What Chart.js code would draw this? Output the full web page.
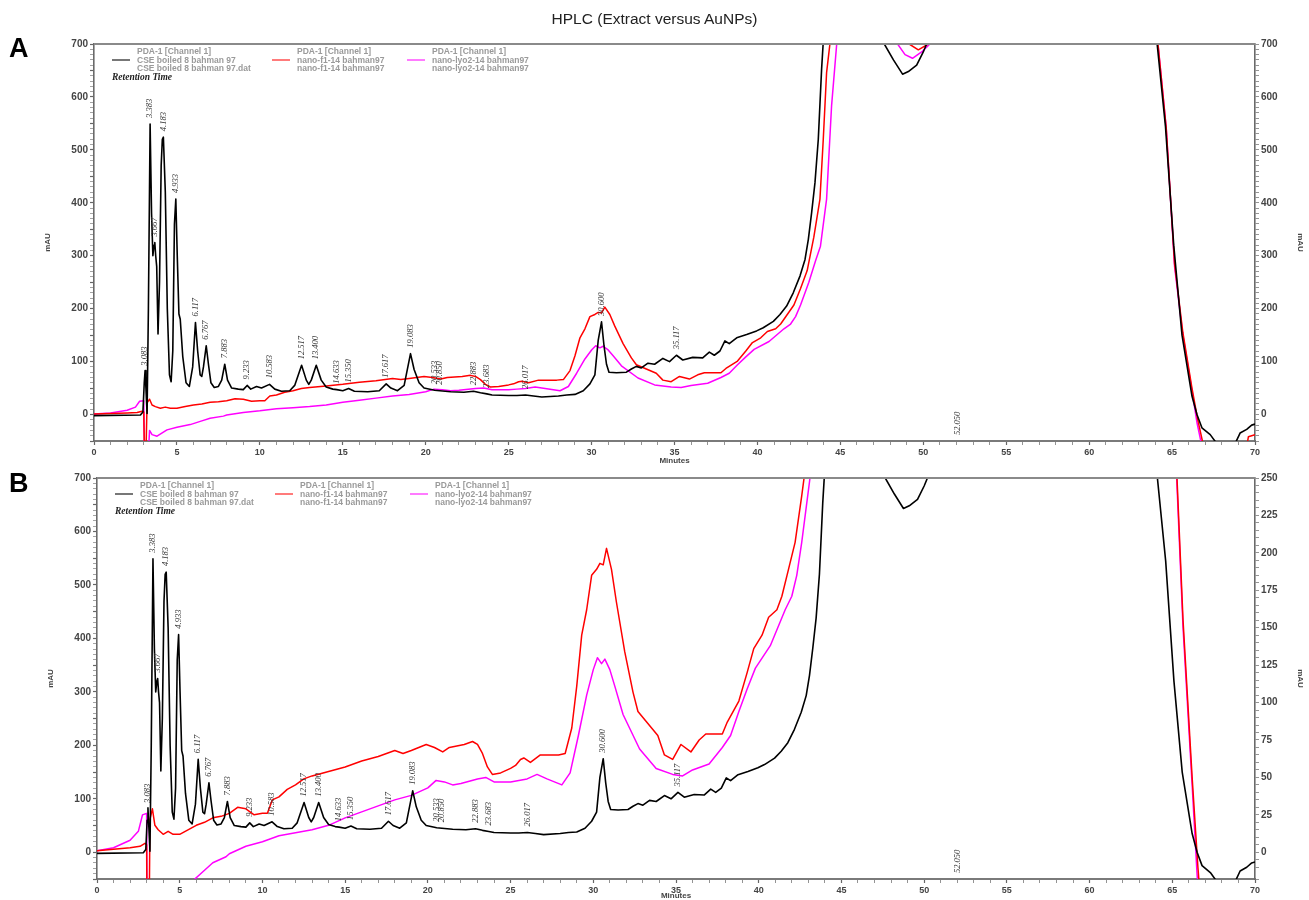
<!DOCTYPE html>
<html><head><meta charset="utf-8">
<script src="https://cdn.jsdelivr.net/npm/chart.js@4.4.0/dist/chart.umd.min.js"></script>
<style>
html,body{margin:0;padding:0;background:#fff;width:1309px;height:900px;overflow:hidden;font-family:"Liberation Sans",Arial,sans-serif;}
#title{position:absolute;left:0;top:10px;width:1309px;text-align:center;font-size:15.5px;color:#222;font-family:"Liberation Sans",Arial,sans-serif;}
.panel{position:absolute;left:9px;font-weight:bold;font-size:27px;color:#000;font-family:"Liberation Sans",Arial,sans-serif;line-height:30px;}
#wa{position:absolute;left:0;top:0;width:1309px;height:470px;}
#wb{position:absolute;left:0;top:470px;width:1309px;height:433px;}
</style></head><body>
<div id="wa"><canvas id="ca"></canvas></div>
<div id="wb"><canvas id="cb"></canvas></div>
<div id="title">HPLC (Extract versus AuNPs)</div>
<div class="panel" style="top:33px">A</div>
<div class="panel" style="top:468px">B</div>
<script>
// ---------------- DATA ----------------
const seriesNames = ["CSE boiled 8 bahman 97", "nano-f1-14 bahman97", "nano-lyo2-14 bahman97"];
const legendLines = [
  ["PDA-1 [Channel 1]", "CSE boiled 8 bahman 97", "CSE boiled 8 bahman 97.dat"],
  ["PDA-1 [Channel 1]", "nano-f1-14 bahman97", "nano-f1-14 bahman97"],
  ["PDA-1 [Channel 1]", "nano-lyo2-14 bahman97", "nano-lyo2-14 bahman97"]
];
// [minutes, mAU]
const blackTrace = [[0,-2],[2.8,-1],[2.95,5],[3.03,60],[3.08,83],[3.13,50],[3.2,2],[3.28,200],[3.383,549],[3.47,380],[3.55,300],[3.62,320],[3.667,325],[3.72,300],[3.78,280],[3.86,152],[3.95,250],[4.05,470],[4.12,520],[4.183,524],[4.3,420],[4.42,200],[4.55,75],[4.65,62],[4.75,120],[4.85,360],[4.933,407],[5.02,300],[5.12,190],[5.2,180],[5.35,110],[5.55,60],[5.75,53],[5.95,90],[6.117,174],[6.25,120],[6.4,75],[6.5,72],[6.6,90],[6.767,130],[6.9,95],[7.05,60],[7.25,51],[7.5,53],[7.7,65],[7.883,95],[8.05,65],[8.3,50],[8.7,48],[9.0,47],[9.233,55],[9.45,48],[9.8,53],[10.1,50],[10.583,57],[10.9,48],[11.3,44],[11.8,45],[12.1,55],[12.517,93],[12.8,65],[12.95,57],[13.1,65],[13.4,93],[13.7,65],[14.0,52],[14.4,48],[14.633,47],[15.0,45],[15.35,49],[15.7,44],[16.5,43],[17.2,45],[17.617,58],[17.9,50],[18.3,45],[18.7,55],[19.083,115],[19.3,85],[19.6,60],[19.9,50],[20.533,46],[20.85,45],[21.5,43],[22.3,42],[22.883,44],[23.3,41],[23.683,39],[24.0,37],[25.0,36],[25.5,36],[26.017,37],[26.5,35],[27.0,33],[28.0,35],[28.5,37],[29.0,38],[29.5,45],[29.9,58],[30.2,75],[30.4,140],[30.6,175],[30.75,130],[30.9,95],[31.05,80],[31.5,79],[32.1,80],[32.4,86],[32.7,91],[33.0,88],[33.4,97],[33.8,95],[34.3,106],[34.7,100],[35.117,112],[35.5,103],[36.1,108],[36.7,107],[37.1,118],[37.4,112],[37.74,120],[38.04,139],[38.3,134],[38.75,145],[39.35,151],[39.95,158],[40.35,164],[40.96,176],[41.36,189],[41.76,205],[42.16,230],[42.57,262],[42.87,293],[43.07,331],[43.27,382],[43.47,438],[43.67,520],[43.87,653],[44.0,720],[44.3,900],[47.4,900],[47.65,700],[48.2,670],[48.75,643],[49.1,648],[49.6,660],[50.0,685],[50.2,700],[50.4,900],[64.0,900],[64.1,700],[64.6,545],[65.1,320],[65.6,150],[66.2,35],[66.5,0],[66.8,-25],[67.3,-38],[67.7,-55],[68.8,-55],[69.1,-35],[69.5,-28],[69.8,-20],[70,-18]];
const redTrace = [[0,1],[1,2],[2,3],[2.6,4],[2.9,6],[3.0,5],[3.05,-90],[3.12,-90],[3.2,22],[3.35,29],[3.5,18],[3.7,15],[4.0,12],[4.3,14],[4.6,12],[5.0,12],[5.5,15],[6.0,18],[6.5,20],[7.0,23],[7.5,24],[8.0,26],[8.5,30],[9.0,29],[9.5,25],[10.0,26],[10.3,26],[10.6,35],[11.0,37],[11.5,42],[12.0,45],[12.5,49],[13.0,51],[14.0,54],[15.0,57],[16.0,61],[17.0,64],[18.0,68],[18.5,66],[19.0,68],[19.9,72],[20.4,70],[20.9,67],[21.3,70],[22.2,72],[22.7,74],[23.0,72],[23.3,66],[23.6,57],[23.9,52],[24.4,53],[25.0,56],[25.3,58],[25.6,62],[25.8,63],[26.2,60],[26.8,65],[27.9,65],[28.3,66],[28.7,83],[29.0,111],[29.3,145],[29.6,162],[29.9,185],[30.2,189],[30.4,193],[30.6,192],[30.8,203],[31.1,189],[31.4,167],[31.9,134],[32.4,107],[32.7,94],[33.3,86],[33.9,78],[34.3,65],[34.8,62],[35.3,72],[35.9,67],[36.4,75],[36.8,79],[37.8,79],[38.1,87],[38.8,101],[39.3,120],[39.7,136],[40.2,145],[40.6,157],[41.1,162],[41.4,171],[41.8,189],[42.2,207],[42.6,238],[43.0,272],[43.4,335],[43.77,407],[43.97,520],[44.17,646],[44.37,700],[44.6,900],[49.0,900],[49.15,700],[49.7,689],[50.3,700],[50.5,900],[64.0,900],[64.15,700],[64.65,540],[65.15,285],[65.65,155],[66.2,50],[66.55,-10],[66.9,-60],[67.2,-80],[69.4,-80],[69.6,-42],[70,-38]];
const magentaTrace = [[0,1],[1,3],[2,8],[2.5,14],[2.75,25],[3.0,26],[3.05,-90],[3.25,-90],[3.35,-30],[3.5,-38],[3.8,-41],[4.4,-29],[5.0,-24],[5.8,-19],[6.5,-12],[7.0,-7],[7.8,-3],[8.0,-1],[9.0,4],[10.0,7],[11.0,11],[12.0,13],[13.0,15],[14.0,18],[15.0,23],[16.0,27],[17.0,31],[18.0,35],[19.0,38],[20.0,43],[20.5,48],[21.0,47],[21.5,45],[22.0,46],[23.0,49],[23.5,50],[24.0,47],[25.0,47],[25.5,48],[26.0,49],[26.6,52],[27.2,49],[28.1,45],[28.6,53],[29.1,78],[29.6,105],[30.0,122],[30.25,130],[30.5,126],[30.7,129],[31.0,122],[31.3,111],[31.8,92],[32.8,69],[33.8,56],[34.8,52],[35.4,51],[36.0,55],[37.0,59],[37.8,70],[38.3,78],[38.8,94],[39.3,109],[39.8,123],[40.7,138],[41.6,162],[42.0,171],[42.3,185],[42.6,207],[43.1,250],[43.5,290],[43.8,318],[44.17,407],[44.47,583],[44.78,700],[45.0,900],[48.3,900],[48.45,700],[48.9,680],[49.35,673],[49.9,685],[50.4,700],[50.6,900],[64.0,900],[64.15,700],[64.65,540],[65.15,280],[65.65,150],[66.2,45],[66.5,-15],[66.8,-60],[67.1,-90],[70,-90]];
const peakLabels = ["3.083","3.383","3.667","4.183","4.933","6.117","6.767","7.883","9.233","10.583","12.517","13.400","14.633","15.350","17.617","19.083","20.533","20.850","22.883","23.683","26.017","30.600","35.117","52.050"];
const xRange = [0, 70];
const leftRange = [-50, 700];
const rightRangeB = [-250/14, 250];
const seriesColors = ["#000000", "#ff0000", "#ff00ff"];
const legendSampleColors = ["#555555", "#ff5a5a", "#ff5aff"];

// ---------------- HELPERS ----------------
function toXY(tr){ return tr.map(p => ({x:p[0], y:p[1]})); }
function interp(tr, t){
  for (let i=0;i<tr.length-1;i++){
    if (tr[i][0] <= t && tr[i+1][0] >= t){
      const f = (t - tr[i][0]) / ((tr[i+1][0] - tr[i][0]) || 1);
      return tr[i][1] + f*(tr[i+1][1]-tr[i][1]);
    }
  }
  return tr[tr.length-1][1];
}
const F = '"Liberation Sans", Arial, sans-serif';

const decor = {
  id: 'decor',
  afterDatasetsDraw(chart){
    const {ctx, chartArea:a} = chart;
    ctx.save();
    ctx.strokeStyle = '#8a8a8a'; ctx.lineWidth = 2;
    ctx.beginPath(); ctx.moveTo(a.left, a.top); ctx.lineTo(a.right, a.top); ctx.stroke();
    const lineX = [18, 178, 313], textX = [43, 203, 338];
    for (let i=0;i<3;i++){
      ctx.strokeStyle = legendSampleColors[i]; ctx.lineWidth = 1.6;
      ctx.beginPath(); ctx.moveTo(a.left+lineX[i], a.top+16); ctx.lineTo(a.left+lineX[i]+18, a.top+16); ctx.stroke();
      ctx.fillStyle = '#9a9a9a'; ctx.font = 'bold 8.5px ' + F;
      ctx.textAlign = 'left'; ctx.textBaseline = 'middle';
      legendLines[i].forEach((s, r) => ctx.fillText(s, a.left+textX[i], a.top+8+r*8.2));
    }
    ctx.fillStyle = '#222'; ctx.font = 'italic bold 9.5px "Liberation Serif", serif';
    ctx.fillText('Retention Time', a.left+18, a.top+34);
    const xs = chart.scales.x, ys = chart.scales.y;
    ctx.fillStyle = '#333'; ctx.font = 'italic 8.5px "Liberation Serif", serif';
    peakLabels.forEach(lbl => {
      const t = parseFloat(lbl);
      const v = interp(blackTrace, t);
      const y = v > ys.max ? a.bottom - 6 : ys.getPixelForValue(v) - 6;
      const x = xs.getPixelForValue(t);
      ctx.save(); ctx.translate(x, y); ctx.rotate(-Math.PI/2);
      ctx.textAlign = 'left'; ctx.textBaseline = 'middle';
      ctx.fillText(lbl, 0, 0); ctx.restore();
    });
    ctx.restore();
  }
};

function makeChart(id, panel){
  const isB = panel === 'B';
  const r2 = isB ? rightRangeB : leftRange;
  const tickFont = {family: F, size: 10, weight: 'bold'};
  const yLabel = v => (Math.abs(v/100 - Math.round(v/100)) < 1e-6) ? String(Math.round(v)) : '';
  const y2Label = isB ? (v => (Math.abs(v/25 - Math.round(v/25)) < 1e-6) ? String(Math.round(v)) : '') : yLabel;
  return new Chart(document.getElementById(id), {
    type: 'line',
    data: { datasets: [
      {label: seriesNames[0], data: toXY(blackTrace), borderColor: seriesColors[0], borderWidth: 1.6, yAxisID: 'y'},
      {label: seriesNames[1], data: toXY(redTrace), borderColor: seriesColors[1], borderWidth: 1.5, yAxisID: 'y2'},
      {label: seriesNames[2], data: toXY(magentaTrace), borderColor: seriesColors[2], borderWidth: 1.5, yAxisID: 'y2'}
    ]},
    options: {
      responsive: true, maintainAspectRatio: false, animation: false,
      parsing: false, normalized: true,
      elements: { point: {radius: 0}, line: {tension: 0, borderJoinStyle: 'round'} },
      layout: { padding: isB ? {top:5, left:41, right:0, bottom:0} : {top:44, left:38, right:0, bottom:0} },
      plugins: { legend: {display:false}, tooltip: {enabled:false}, title: {display:false} },
      scales: {
        x: {
          type: 'linear', min: xRange[0], max: xRange[1],
          afterFit: s => { s.height = isB ? 24 : 29; },
          border: {display:true, color:'#7a7a7a', width:2},
          grid: {display:true, drawOnChartArea:false, drawTicks:true, tickLength:4, tickColor:'#666',
                 tickWidth: c => (c.tick && c.tick.value % 5 === 0) ? 1.2 : 0.7},
          ticks: {stepSize: 1, autoSkip: false, maxRotation: 0, padding: 2, color:'#444', font: {family: F, size: 9, weight:'bold'},
                  callback: v => (v % 5 === 0) ? String(v) : ''},
          title: {display: true, text: 'Minutes', color:'#444', font: {family: F, size: 8, weight:'bold'}, padding: {top:0, bottom: isB ? 2 : 4.2}}
        },
        y: {
          type: 'linear', position: 'left', min: leftRange[0], max: leftRange[1],
          afterFit: s => { s.width = 56; },
          border: {display:true, color:'#6a6a6a', width:1.6},
          grid: {display:true, drawOnChartArea:false, drawTicks:true, tickLength:4, tickColor:'#666',
                 tickWidth: c => (c.tick && c.tick.value % 50 === 0) ? 1.2 : 0.6},
          ticks: {stepSize: 10, autoSkip: false, padding: 2, color:'#444', font: tickFont, callback: yLabel},
          title: {display: true, text: 'mAU', color:'#444', font: {family: F, size: 8, weight:'bold'}, padding: {top:5, bottom:0}}
        },
        y2: {
          type: 'linear', position: 'right', min: r2[0], max: r2[1],
          afterFit: s => { s.width = 54; },
          border: {display:true, color:'#6a6a6a', width:1.6},
          grid: {display:true, drawOnChartArea:false, drawTicks:true, tickLength:4, tickColor:'#666', tickWidth: 0.7},
          ticks: {stepSize: isB ? 5 : 10, autoSkip: false, padding: 2, color:'#444', font: tickFont, callback: y2Label},
          title: {display: true, text: 'mAU', color:'#444', font: {family: F, size: 8, weight:'bold'}, padding: {top:4, bottom:0}}
        }
      }
    },
    plugins: [decor]
  });
}
makeChart('ca', 'A');
makeChart('cb', 'B');
</script>
</body></html>
